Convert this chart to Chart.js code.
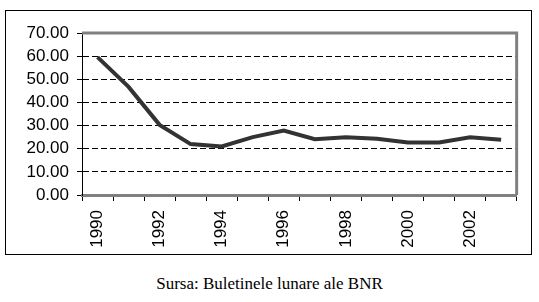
<!DOCTYPE html>
<html>
<head>
<meta charset="utf-8">
<script src="https://cdn.jsdelivr.net/npm/chart.js@4"></script>
<style>
    body { margin: 0; background: #fff; width: 539px; height: 302px; position: relative; overflow: hidden; }
    .frame { position: absolute; left: 5px; top: 10px; width: 525px; height: 243px; border: 1px solid #000; }
    .frame canvas { display: block; }
    .caption {
        position: absolute; left: 0; width: 539px; top: 274px; text-align: center;
        font-family: "Liberation Serif", "Times New Roman", serif; font-size: 17px; color: #000;
    }
</style>
</head>
<body>
<div class="frame"><canvas id="rateChart" width="525" height="243"></canvas></div>
<div class="caption">Sursa: Buletinele lunare ale BNR</div>

<script>
// Data
const years = ['1990', '1991', '1992', '1993', '1994', '1995', '1996',
               '1997', '1998', '1999', '2000', '2001', '2002', '2003'];
const values = [59.6, 46.7, 30.3, 22.0, 21.0, 25.0, 27.8,
                24.1, 24.9, 24.3, 22.7, 22.7, 24.9, 23.9];
const yTicks = [0, 10, 20, 30, 40, 50, 60, 70];

// Gray frame on the top and right of the plot area (Excel style)
const plotFrame = {
    id: 'plotFrame',
    afterDraw(chart) {
        const { ctx, chartArea: a } = chart;
        ctx.save();
        ctx.strokeStyle = '#808080';
        ctx.lineWidth = 3;
        ctx.beginPath();
        ctx.moveTo(a.left, a.top);
        ctx.lineTo(a.right, a.top);
        ctx.lineTo(a.right, a.bottom);
        ctx.stroke();
        ctx.restore();
    }
};

const axisFont = { family: '"Liberation Sans", Arial, sans-serif', size: 17 };

new Chart(document.getElementById('rateChart'), {
    type: 'line',
    data: {
        labels: years,
        datasets: [{
            data: values,
            borderColor: '#333333',
            borderWidth: 4,
            pointRadius: 0,
            tension: 0,
            fill: false
        }]
    },
    options: {
        responsive: false,
        animation: false,
        events: [],
        layout: { padding: { top: 22, right: 13, left: 0, bottom: 0 } },
        plugins: { legend: { display: false }, tooltip: { enabled: false } },
        scales: {
            x: {
                type: 'category',
                offset: true,
                grid: {
                    offset: true,
                    drawOnChartArea: false,
                    drawTicks: true,
                    tickLength: 6,
                    tickColor: '#000',
                    tickWidth: 1
                },
                border: { display: true, color: '#808080', width: 3 },
                ticks: {
                    autoSkip: false,
                    minRotation: 90,
                    maxRotation: 90,
                    padding: 9,
                    color: '#000',
                    font: axisFont,
                    callback: (val, i) => (i % 2 === 0 ? years[i] : '')
                },
                afterFit: s => { s.height = 59; }
            },
            y: {
                min: 0,
                max: 70,
                afterBuildTicks: s => { s.ticks = yTicks.map(v => ({ value: v })); },
                grid: {
                    color: c => (c.tick && (c.tick.value === 0 || c.tick.value === 70)) ? 'rgba(0,0,0,0)' : '#000',
                    lineWidth: 1,
                    drawTicks: true,
                    tickLength: 5,
                    tickColor: '#000',
                    tickWidth: 1
                },
                border: { display: true, color: '#000', width: 1, dash: [6, 3] },
                ticks: {
                    autoSkip: false,
                    padding: 8,
                    color: '#000',
                    font: axisFont,
                    callback: v => v.toFixed(2)
                },
                afterFit: s => { s.width = 76; }
            }
        }
    },
    plugins: [plotFrame]
});
</script>
</body>
</html>
